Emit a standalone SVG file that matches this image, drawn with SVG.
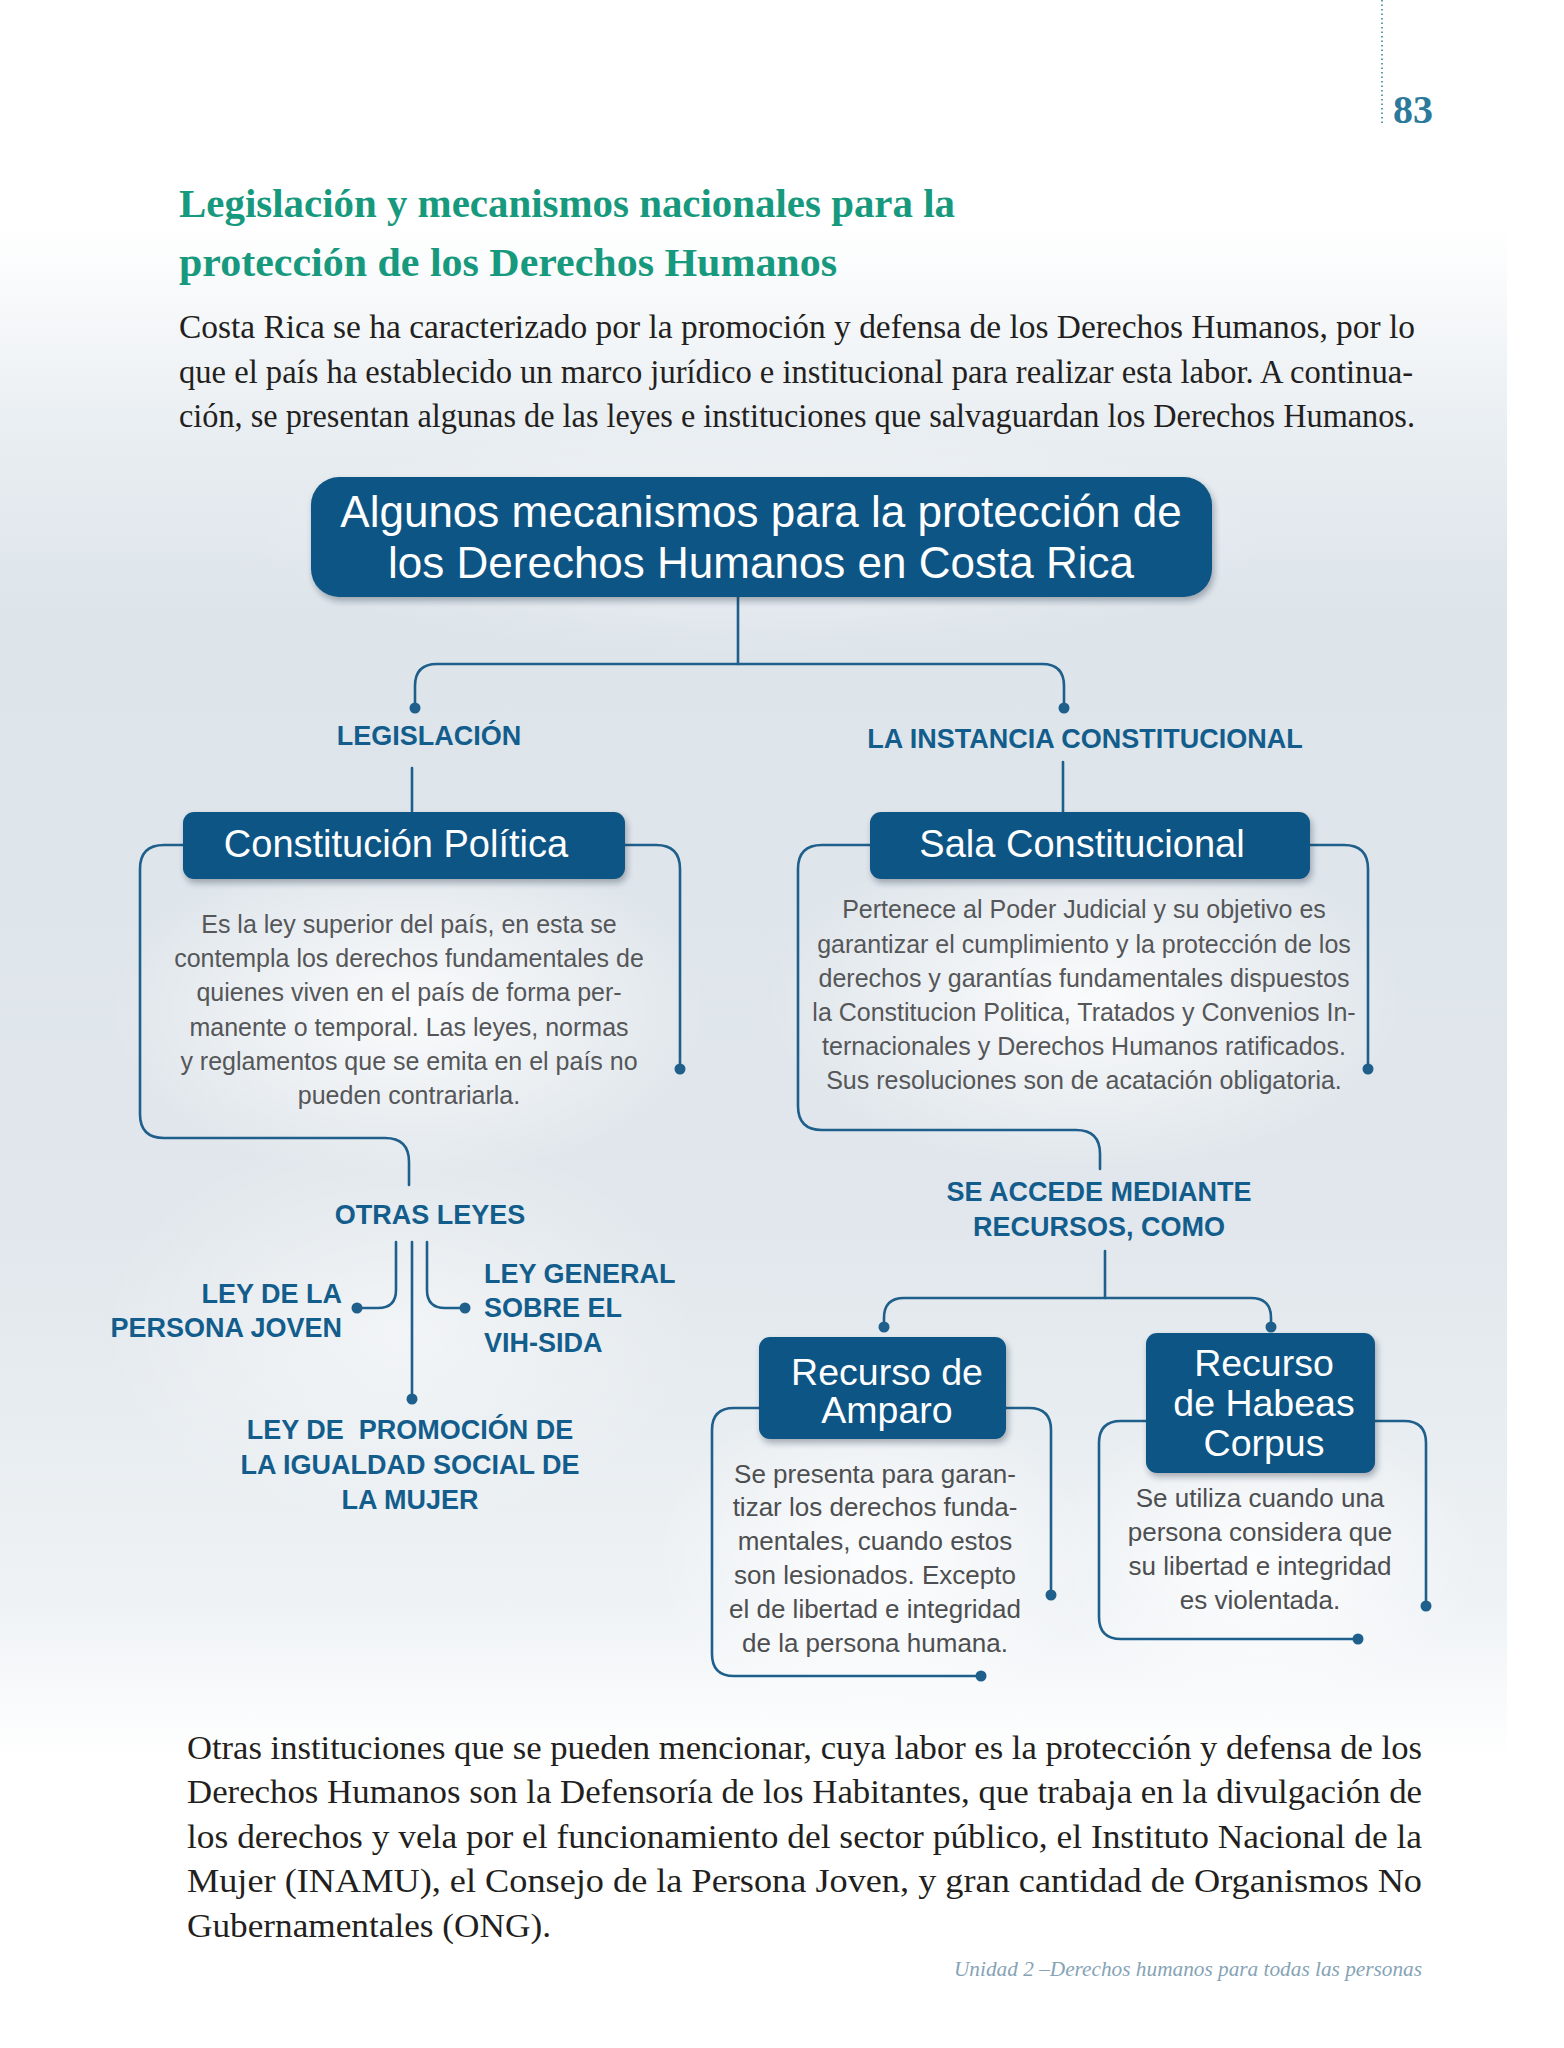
<svg xmlns="http://www.w3.org/2000/svg" width="1564" height="2048" viewBox="0 0 1564 2048">
<defs>
  <linearGradient id="bg" x1="0" y1="0" x2="0" y2="2048" gradientUnits="userSpaceOnUse">
    <stop offset="0" stop-color="#ffffff"/>
    <stop offset="0.11" stop-color="#ffffff"/>
    <stop offset="0.21" stop-color="#e9eef2"/>
    <stop offset="0.30" stop-color="#dde4ea"/>
    <stop offset="0.60" stop-color="#e1e7ec"/>
    <stop offset="0.78" stop-color="#eef2f5"/>
    <stop offset="0.86" stop-color="#ffffff"/>
    <stop offset="1" stop-color="#ffffff"/>
  </linearGradient>
  <radialGradient id="glow">
    <stop offset="0" stop-color="#ffffff" stop-opacity="0.85"/>
    <stop offset="1" stop-color="#ffffff" stop-opacity="0"/>
  </radialGradient>
  <filter id="sh" x="-10%" y="-10%" width="125%" height="145%">
    <feDropShadow dx="2" dy="4" stdDeviation="3" flood-color="#1a2a3a" flood-opacity="0.35"/>
  </filter>
</defs>
<style>
  .box{fill:#0d5585;filter:url(#sh)}
  .hd{font-family:"Liberation Sans",Arial,sans-serif;fill:#ffffff;text-anchor:middle}
  .lbl{font-family:"Liberation Sans",Arial,sans-serif;font-weight:bold;font-size:27px;fill:#135d8c}
  .mid{text-anchor:middle}
  .end{text-anchor:end}
  .body{font-family:"Liberation Sans",Arial,sans-serif;font-size:25px;fill:#555658;text-anchor:middle}
  .body2{font-family:"Liberation Sans",Arial,sans-serif;font-size:26px;fill:#4d4e50;text-anchor:middle}
  .con{fill:none;stroke:#1f5f8b;stroke-width:2.6;stroke-linecap:round}
  .dot{fill:#1f5f8b}
  .serif{font-family:"Liberation Serif","Times New Roman",serif}
  .para{font-family:"Liberation Serif","Times New Roman",serif;font-size:33px;fill:#231f20}
</style>

<!-- background -->
<rect x="0" y="0" width="1564" height="2048" fill="#ffffff"/>
<rect x="0" y="0" width="1507" height="2048" fill="url(#bg)"/>
<ellipse cx="409" cy="1010" rx="300" ry="170" fill="url(#glow)"/>
<ellipse cx="1085" cy="1000" rx="320" ry="170" fill="url(#glow)"/>
<ellipse cx="875" cy="1560" rx="220" ry="170" fill="url(#glow)"/>
<ellipse cx="1260" cy="1560" rx="220" ry="150" fill="url(#glow)"/>
<ellipse cx="400" cy="1330" rx="300" ry="200" fill="url(#glow)" opacity="0.6"/>
<ellipse cx="760" cy="540" rx="520" ry="120" fill="url(#glow)" opacity="0.5"/>

<!-- page header -->
<g id="page-number">
  <line x1="1382" y1="0" x2="1382" y2="124" stroke="#2b7a9b" stroke-width="1.5" stroke-dasharray="1.5 3"/>
  <text x="1393" y="123" class="serif" font-weight="bold" font-size="40" fill="#2b7a9b" textLength="40" lengthAdjust="spacingAndGlyphs">83</text>
</g>

<g id="title">
  <text x="179" y="217" class="serif" font-weight="bold" font-size="41" fill="#17997d" textLength="776" lengthAdjust="spacingAndGlyphs">Legislación y mecanismos nacionales para la</text>
  <text x="179" y="276" class="serif" font-weight="bold" font-size="41" fill="#17997d" textLength="658" lengthAdjust="spacingAndGlyphs">protección de los Derechos Humanos</text>
</g>

<g id="intro">
  <text x="179" y="338" class="para" textLength="1236" lengthAdjust="spacingAndGlyphs">Costa Rica se ha caracterizado por la promoción y defensa de los Derechos Humanos, por lo</text>
  <text x="179" y="383" class="para" textLength="1234" lengthAdjust="spacingAndGlyphs">que el país ha establecido un marco jurídico e institucional para realizar esta labor. A continua-</text>
  <text x="179" y="427" class="para" textLength="1236" lengthAdjust="spacingAndGlyphs">ción, se presentan algunas de las leyes e instituciones que salvaguardan los Derechos Humanos.</text>
</g>

<!-- connectors -->
<g id="connectors">
  <path class="con" d="M738,597 V664"/>
  <path class="con" d="M415,708 V686 Q415,664 437,664 H1042 Q1064,664 1064,686 V708"/>
  <circle class="dot" cx="415" cy="708" r="5.5"/>
  <circle class="dot" cx="1064" cy="708" r="5.5"/>
  <path class="con" d="M412,768 V811"/>
  <path class="con" d="M1063,762 V812"/>
  <!-- Constitucion brackets -->
  <path class="con" d="M184,845 H164 Q140,845 140,869 V1114 Q140,1138 164,1138 H385 Q409,1138 409,1162 V1185"/>
  <path class="con" d="M625,845 H656 Q680,845 680,869 V1069"/>
  <circle class="dot" cx="680" cy="1069" r="5.5"/>
  <!-- Sala brackets -->
  <path class="con" d="M870,845 H822 Q798,845 798,869 V1106 Q798,1130 822,1130 H1076 Q1100,1130 1100,1154 V1169"/>
  <path class="con" d="M1310,845 H1344 Q1368,845 1368,869 V1069"/>
  <circle class="dot" cx="1368" cy="1069" r="5.5"/>
  <!-- Otras leyes -->
  <path class="con" d="M396,1242 V1290 Q396,1308 378,1308 H357"/>
  <circle class="dot" cx="357" cy="1308" r="5.5"/>
  <path class="con" d="M412,1242 V1399"/>
  <circle class="dot" cx="412" cy="1399" r="5.5"/>
  <path class="con" d="M427,1242 V1290 Q427,1308 445,1308 H465"/>
  <circle class="dot" cx="465" cy="1308" r="5.5"/>
  <!-- Recursos -->
  <path class="con" d="M1105,1251 V1298"/>
  <path class="con" d="M884,1327 V1318 Q884,1298 904,1298 H1251 Q1271,1298 1271,1318 V1327"/>
  <circle class="dot" cx="884" cy="1327" r="5.5"/>
  <circle class="dot" cx="1271" cy="1327" r="5.5"/>
  <!-- Amparo brackets -->
  <path class="con" d="M759,1408 H734 Q712,1408 712,1430 V1654 Q712,1676 734,1676 H981"/>
  <circle class="dot" cx="981" cy="1676" r="5.5"/>
  <path class="con" d="M1006,1408 H1029 Q1051,1408 1051,1430 V1595"/>
  <circle class="dot" cx="1051" cy="1595" r="5.5"/>
  <!-- Habeas brackets -->
  <path class="con" d="M1146,1421 H1121 Q1099,1421 1099,1443 V1617 Q1099,1639 1121,1639 H1358"/>
  <circle class="dot" cx="1358" cy="1639" r="5.5"/>
  <path class="con" d="M1375,1421 H1404 Q1426,1421 1426,1443 V1606"/>
  <circle class="dot" cx="1426" cy="1606" r="5.5"/>
</g>

<!-- nodes -->
<g id="node-main">
  <rect class="box" x="311" y="477" width="901" height="120" rx="28"/>
  <text class="hd" x="761" y="527" font-size="44">Algunos mecanismos para la protección de</text>
  <text class="hd" x="761" y="578" font-size="44">los Derechos Humanos en Costa Rica</text>
</g>

<g id="node-legislacion">
  <text class="lbl mid" x="429" y="745">LEGISLACIÓN</text>
</g>

<g id="node-instancia">
  <text class="lbl mid" x="1085" y="748">LA INSTANCIA CONSTITUCIONAL</text>
</g>

<g id="node-constitucion">
  <rect class="box" x="183" y="812" width="442" height="67" rx="11"/>
  <text class="hd" x="396" y="857" font-size="38">Constitución Política</text>
  <text class="body" x="409" y="933">Es la ley superior del país, en esta se</text>
  <text class="body" x="409" y="967">contempla los derechos fundamentales de</text>
  <text class="body" x="409" y="1001">quienes viven en el país de forma per-</text>
  <text class="body" x="409" y="1036">manente o temporal. Las leyes, normas</text>
  <text class="body" x="409" y="1070">y reglamentos que se emita en el país no</text>
  <text class="body" x="409" y="1104">pueden contrariarla.</text>
</g>

<g id="node-sala">
  <rect class="box" x="870" y="812" width="440" height="67" rx="11"/>
  <text class="hd" x="1082" y="857" font-size="38">Sala Constitucional</text>
  <text class="body" x="1084" y="918">Pertenece al Poder Judicial y su objetivo es</text>
  <text class="body" x="1084" y="953">garantizar el cumplimiento y la protección de los</text>
  <text class="body" x="1084" y="987">derechos y garantías fundamentales dispuestos</text>
  <text class="body" x="1084" y="1021">la Constitucion Politica, Tratados y Convenios In-</text>
  <text class="body" x="1084" y="1055">ternacionales y Derechos Humanos ratificados.</text>
  <text class="body" x="1084" y="1089">Sus resoluciones son de acatación obligatoria.</text>
</g>

<g id="node-otras-leyes">
  <text class="lbl mid" x="430" y="1224">OTRAS LEYES</text>
</g>

<g id="node-persona-joven">
  <text class="lbl end" x="342" y="1303">LEY DE LA</text>
  <text class="lbl end" x="342" y="1337">PERSONA JOVEN</text>
</g>

<g id="node-vih">
  <text class="lbl" x="484" y="1283">LEY GENERAL</text>
  <text class="lbl" x="484" y="1317">SOBRE EL</text>
  <text class="lbl" x="484" y="1352">VIH-SIDA</text>
</g>

<g id="node-mujer">
  <text class="lbl mid" x="410" y="1439" xml:space="preserve">LEY DE  PROMOCIÓN DE</text>
  <text class="lbl mid" x="410" y="1474">LA IGUALDAD SOCIAL DE</text>
  <text class="lbl mid" x="410" y="1509">LA MUJER</text>
</g>

<g id="node-se-accede">
  <text class="lbl mid" x="1099" y="1201">SE ACCEDE MEDIANTE</text>
  <text class="lbl mid" x="1099" y="1236">RECURSOS, COMO</text>
</g>

<g id="node-amparo">
  <rect class="box" x="759" y="1337" width="247" height="102" rx="11"/>
  <text class="hd" x="887" y="1385" font-size="37.5">Recurso de</text>
  <text class="hd" x="887" y="1423" font-size="37.5">Amparo</text>
  <text class="body2" x="875" y="1483">Se presenta para garan-</text>
  <text class="body2" x="875" y="1516">tizar los derechos funda-</text>
  <text class="body2" x="875" y="1550">mentales, cuando estos</text>
  <text class="body2" x="875" y="1584">son lesionados. Excepto</text>
  <text class="body2" x="875" y="1618">el de libertad e integridad</text>
  <text class="body2" x="875" y="1652">de la persona humana.</text>
</g>

<g id="node-habeas">
  <rect class="box" x="1146" y="1333" width="229" height="140" rx="11"/>
  <text class="hd" x="1264" y="1376" font-size="37.5">Recurso</text>
  <text class="hd" x="1264" y="1416" font-size="37.5">de Habeas</text>
  <text class="hd" x="1264" y="1456" font-size="37.5">Corpus</text>
  <text class="body2" x="1260" y="1507">Se utiliza cuando una</text>
  <text class="body2" x="1260" y="1541">persona considera que</text>
  <text class="body2" x="1260" y="1575">su libertad e integridad</text>
  <text class="body2" x="1260" y="1609">es violentada.</text>
</g>

<g id="closing">
  <text x="187" y="1759" class="para" textLength="1235" lengthAdjust="spacingAndGlyphs">Otras instituciones que se pueden mencionar, cuya labor es la protección y defensa de los</text>
  <text x="187" y="1803" class="para" textLength="1235" lengthAdjust="spacingAndGlyphs">Derechos Humanos son la Defensoría de los Habitantes, que trabaja en la divulgación de</text>
  <text x="187" y="1848" class="para" textLength="1235" lengthAdjust="spacingAndGlyphs">los derechos y vela por el funcionamiento del sector público, el Instituto Nacional de la</text>
  <text x="187" y="1892" class="para" textLength="1235" lengthAdjust="spacingAndGlyphs">Mujer (INAMU), el Consejo de la Persona Joven, y gran cantidad de Organismos No</text>
  <text x="187" y="1937" class="para" textLength="364" lengthAdjust="spacingAndGlyphs">Gubernamentales (ONG).</text>
</g>

<g id="footer">
  <text x="1422" y="1976" class="serif" font-style="italic" font-size="21" fill="#86a3b6" text-anchor="end" textLength="468" lengthAdjust="spacingAndGlyphs">Unidad 2 –Derechos humanos para todas las personas</text>
</g>
</svg>
